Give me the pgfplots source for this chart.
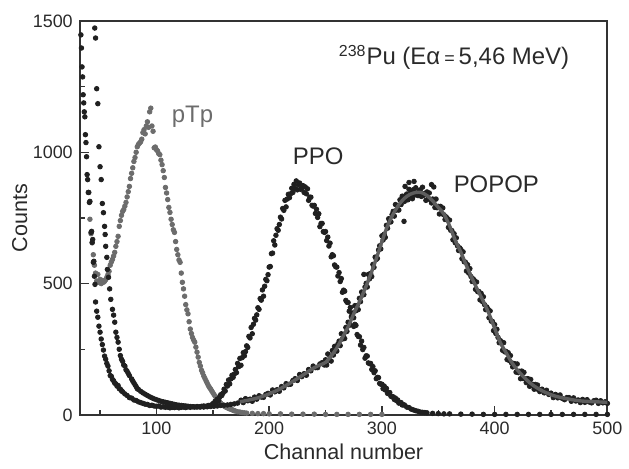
\documentclass[border=0pt]{standalone}
\usepackage{pgfplots}
\pgfplotsset{compat=1.18}
\usepackage{fontspec}
\setmainfont{Liberation Sans}
\definecolor{dotdark}{HTML}{202020}
\definecolor{dotgray}{HTML}{6C6C6C}
\definecolor{fitgray}{HTML}{5E5E5E}
\definecolor{axgray}{HTML}{333333}
\definecolor{txtgray}{HTML}{2A2A2A}

\begin{document}
\begin{tikzpicture}
\begin{axis}[
  set layers=standard,
  scale only axis,
  width=264.5pt, height=197.5pt,
  xmin=32, xmax=500, ymin=0, ymax=1500,
  xtick={100,200,300,400,500},
  ytick={0,500,1000,1500},
  minor xtick={50,150,250,350,450},
  minor ytick={250,750,1250},
  xtick pos=bottom, ytick pos=left,
  tick align=inside,
  major tick length=4.5pt, minor tick length=2.5pt,
  axis line style={axgray, line width=0.9pt},
  tick style={axgray, line width=0.7pt},
  /pgf/number format/assume math mode=true,
  /pgf/number format/1000 sep={},
  tick label style={font=\fontsize{9}{10}\selectfont, text=txtgray},
  label style={font=\fontsize{10.8}{12}\selectfont, text=txtgray},
  xlabel={Channal number},
  ylabel={Counts},
  xlabel style={at={(axis description cs:0.5,-0.094)}, anchor=center},
  ylabel style={at={(axis description cs:-0.114,0.5)}, anchor=center},
  clip=false,
]
% invisible frame: keeps the page margins of the reference
\path (rel axis cs:-0.1512,-0.1367) rectangle (rel axis cs:1.0378,1.0532);

% pTp
\addplot[only marks, mark=*, mark size=1.15pt, color=dotgray] coordinates {
(41,745) (42,690) (43,655) (44,610) (45,570) (46,540) (47,510) (48,535) (49,505) (50,516)
(51,500) (52,512) (53,505) (54,509) (55,515) (56,524) (57,535) (58,547) (59,570) (60,582)
(61,592) (62,605) (63,619) (64,642) (65,660) (66,680) (67,718) (68,740) (69,760) (70,775)
(71,782) (72,795) (73,809) (74,830) (75,850) (76,870) (77,900) (78,920) (79,941) (80,965)
(81,980) (82,1000) (83,1021) (84,1030) (85,1035) (86,1040) (87,1050) (88,1075) (89,1086) (90,1070)
(91,1100) (92,1116) (93,1095) (94,1154) (95,1168) (96,1100) (97,1080) (98,1017) (99,1020) (100,1010)
(101,1005) (102,995) (103,991) (104,970) (105,953) (106,930) (107,904) (108,866) (109,845) (110,820)
(111,790) (112,771) (113,745) (114,725) (115,705) (116,695) (117,660) (118,630) (119,610) (120,590)
(121,581) (122,540) (123,505) (124,480) (125,452) (126,420) (127,400) (128,385) (129,355) (130,327)
(131,310) (132,295) (133,285) (134,277) (135,258) (136,239) (137,220) (138,200) (139,186) (140,170)
(141,160) (142,148) (143,139) (144,130) (145,121) (146,112) (147,105) (148,99) (149,92) (150,85)
(151,78) (152,72) (153,66) (154,61) (155,55) (156,50) (157,45) (158,40) (159,37) (160,34)
(161,31) (162,29) (163,27) (164,25) (165,23) (166,22) (167,20) (168,18) (169,16) (170,15)
(172,12) (174,11) (176,9) (178,8) (180,7) (185,6) (190,5) (195,5) (200,4) (210,4)
(220,3) (230,3) (240,3) (250,2) (260,2) (270,2) (280,2) (290,2) (300,2)
};

% PPO
\addplot[only marks, mark=*, mark size=1.15pt, color=dotdark] coordinates {
(33,1447) (33.5,1397) (34,1325) (34.5,1287) (35,1219) (35.5,1188) (36,1154) (36.5,1135) (37,1067) (37.5,1037)
(38,983) (38.5,915) (39,896) (39.5,847) (40,847) (40.5,809) (41,813) (42,695) (42.5,699) (43,657)
(43.5,668) (44,581) (44.5,585) (45,528) (45.5,497) (46,430) (47,395) (48,372) (49,338) (50,315)
(51,289) (52,268) (53,247) (54,224) (55,212) (56,196) (57,186) (58,168) (59,150) (60,147)
(61,135) (62,130) (63,121) (64,118) (65,110) (66,112) (67,100) (68,98) (69,92) (70,88)
(72,80) (74,74) (76,66) (78,64) (80,57) (82,55) (84,50) (86,47) (88,44) (90,41)
(92,40) (94,36) (96,37) (98,34) (100,33) (102,34) (104,30) (106,31) (108,29) (110,30)
(112,27) (114,29) (116,28) (118,30) (120,27) (122,29) (124,30) (126,28) (128,31) (130,29)
(132,31) (134,30) (136,32) (138,31) (140,33) (142,34) (144,33) (146,36) (148,37)
(150,43) (151,40) (152,52) (153,49) (154,60) (155,53) (156,67) (157,77) (158,74) (159,83)
(160,98) (161,91) (162,116) (163,110) (164,133) (165,118) (166,137) (167,151) (168,143) (169,155)
(170,173) (171,161) (172,196) (173,184) (174,215) (175,189) (176,218) (177,237) (178,225) (179,241)
(180,263) (181,257) (182,299) (183,293) (184,333) (185,309) (186,345) (187,368) (188,361) (189,381)
(190,408) (191,402) (192,443) (193,437) (194,476) (195,452) (196,490) (197,516) (198,511) (199,534)
(200,563) (201,565) (202,614) (203,616) (204,663) (205,647) (206,684) (207,709) (208,703) (209,725)
(210,753) (211,746) (212,786) (213,779) (214,817) (215,792) (216,822) (217,840) (218,827) (219,842)
(220,863) (221,847) (222,878) (223,862) (224,891) (225,857) (226,876) (227,883) (228,859) (229,863)
(230,873) (231,847) (232,868) (233,842) (234,861) (235,817) (236,829) (237,829) (238,798) (239,795)
(240,798) (241,767) (242,783) (243,752) (244,766) (245,717) (246,729) (247,729) (248,698) (249,695)
(250,698) (251,664) (252,677) (253,643) (254,654) (255,602) (256,610) (257,606) (258,571) (259,564)
(260,563) (261,529) (262,542) (263,508) (264,519) (265,467) (266,475) (267,471) (268,436) (269,429)
(270,428) (271,395) (272,409) (273,376) (274,388) (275,337) (276,345) (277,341) (278,306) (279,299)
(280,298) (281,266) (282,281) (283,249) (284,257) (285,216) (286,225) (287,224) (288,198) (289,195)
(290,196) (291,173) (292,184) (293,161) (294,168) (295,138) (296,143) (297,142) (298,120) (299,117)
(300,117) (301,100) (302,110) (303,95) (304,101) (305,82) (306,85) (307,85) (308,71) (309,69)
(310,69) (311,59) (312,64) (313,54) (314,57) (315,45) (316,47) (317,47) (318,38) (319,38)
(320,38) (322,30) (324,28) (326,22) (328,19) (330,16) (332,14) (334,11) (336,10) (338,9)
(340,8) (345,6) (350,5) (355,4) (360,4) (370,3) (380,3) (390,2) (400,2) (410,2)
(420,2) (430,2) (440,2) (450,2) (460,2) (470,2) (480,2) (490,2) (500,2)
};

% POPOP
\addplot[only marks, mark=*, mark size=1.15pt, color=dotdark] coordinates {
(45.3,1473) (46,1435) (47,1242) (48,1185) (49,1021) (50,945) (51,896) (52,805) (53,770) (54,718)
(54.5,687) (55,642) (56,600) (56.5,554) (57.5,524) (58.5,480) (59.5,440) (61,402) (62,380) (63,353)
(64,315) (65,295) (66,277) (67,250) (68,226) (69,212) (70,204) (71,190) (72,186) (73,172)
(74,166) (75,158) (76,150) (78,137) (79,129) (80,122) (81,115) (82,108) (83,100) (84,97)
(86,90) (88,84) (90,79) (92,74) (94,69) (96,65) (98,61) (100,58) (102,55) (104,52)
(106,50) (108,48) (110,46) (112,44) (114,42) (116,40) (118,38) (120,37) (122,36) (124,35)
(126,34) (128,33) (130,32) (133,31) (136,30) (139,30) (142,30) (145,31) (148,32) (151,33)
(154,34) (157,36) (160,37) (163,38) (166,40) (169,42) (172,45)
(175,56) (177,47) (179,62) (181,54) (183,60) (185,52) (187,68) (189,60) (191,73) (193,68)
(195,67) (197,78) (199,82) (201,76) (203,95) (205,88) (207,96) (209,90) (211,108) (213,103)
(215,119) (217,116) (219,117) (221,131) (223,138) (225,131) (227,154) (229,146) (231,157) (233,151)
(235,173) (237,168) (239,186) (241,180) (243,180) (245,194) (247,199) (249,190)
(250,210) (251,190) (252,232) (253,209) (254,224) (255,205) (256,245) (257,228) (258,261) (259,246)
(260,243) (261,270) (262,281) (263,264) (264,309) (265,289) (266,307) (267,291) (268,333) (269,318)
(270,353) (271,342) (272,343) (273,372) (274,385) (275,370) (276,416) (277,397) (278,416) (279,401)
(280,444) (281,431) (282,468) (283,457) (284,458) (284,535) (285,487) (286,501) (287,487) (288,535) (289,518)
(290,539) (291,527) (292,573) (293,562) (294,601) (295,592) (296,596) (297,628) (298,644) (299,632)
(300,682) (301,666) (302,688) (303,676) (304,722) (305,711) (306,747) (307,735) (308,735) (309,763)
(310,775) (311,757) (312,801) (313,780) (314,797) (315,780) (316,819) (317,801) (318,833) (319,817)
(319.6,737) (320,813) (320.5,870) (321,835) (322,841) (323,819) (324,859) (324,885) (325,834) (326,845)
(327,823) (328,858) (328.5,889) (329,837) (330,865) (331,844) (332,835) (333,854) (334,857) (335,832)
(336,867) (337,836) (338,844) (339,817) (340,849) (341,822) (342,845) (343,820) (344,807) (344,877)
(345,822) (346,868) (346.5,820) (347,790) (348,822) (349,789) (350,794) (351,765) (352,794) (353,766)
(354,788) (355,762) (356,744) (357,754) (358,748) (359,714) (360,742) (361,703) (362,702) (363,667)
(364,690) (365,656) (366,674) (367,644) (368,626) (369,636) (370,630) (371,595) (372,621) (373,583)
(374,582) (375,548) (376,572) (377,540) (378,557) (379,527) (380,508) (381,518) (382,512) (383,478)
(384,506) (385,469) (386,470) (387,438) (388,463) (389,432) (390,450) (391,420) (392,401) (393,411)
(394,404) (395,370) (396,396) (397,357) (398,356) (399,321) (400,344) (401,310) (402,326) (403,295)
(404,275) (405,283) (406,278) (407,246) (408,275) (409,240) (410,242) (411,211) (412,237) (413,207)
(414,226) (415,198) (416,183) (417,196) (418,194) (419,163) (420,194) (421,161) (422,166) (423,138)
(424,167) (425,139) (426,162) (427,137) (428,123) (429,138) (430,137) (431,109) (432,135) (433,113)
(434,116) (435,98) (436,116) (437,99) (438,114) (439,98) (440,89)
(442,98) (444,84) (446,94) (448,78) (450,83) (452,66) (454,78) (456,65) (458,76) (460,63)
(462,58) (464,66) (466,66) (468,52) (470,65) (472,53) (474,57) (476,47) (478,59) (480,48)
(482,58) (484,49) (486,46) (488,54) (490,56) (492,44) (494,54) (496,46) (498,50) (500,44)
};

% fitted curve for POPOP, drawn above the dots
\addplot[fitgray, line width=1.7pt, smooth, no marks, on layer=axis foreground] coordinates {
(174,50) (180,55) (190,65) (200,80) (210,100) (220,125) (230,152) (240,180) (245,190) (250,200)
(255,225) (260,255) (265,295) (270,335) (275,385) (280,430) (285,480) (290,535) (295,595) (300,660)
(305,720) (310,765) (315,800) (320,825) (325,840) (330,847) (335,847) (340,835) (345,815) (350,790)
(355,765) (360,720) (365,665) (370,620) (375,568) (380,520) (385,475) (390,432) (395,385) (400,330)
(405,276) (410,238) (415,201) (420,172) (425,148) (430,127) (435,110) (440,97) (445,86) (450,77)
(455,70) (460,65) (465,61) (470,57) (475,54) (480,52) (490,50) (500,48)
};

\node[font=\fontsize{12}{14}\selectfont, text=txtgray, anchor=base] at (axis cs:364,1333)
  {\textsuperscript{238}Pu (Eα\,{\small =}\,5,46 MeV)};
\node[font=\fontsize{12}{14}\selectfont, text=dotgray, anchor=base] at (axis cs:132,1112) {pTp};
\node[font=\fontsize{12}{14}\selectfont, text=txtgray, anchor=base] at (axis cs:243.5,953) {PPO};
\node[font=\fontsize{12}{14}\selectfont, text=txtgray, anchor=base] at (axis cs:401.5,847) {POPOP};
\end{axis}
\end{tikzpicture}
\end{document}
